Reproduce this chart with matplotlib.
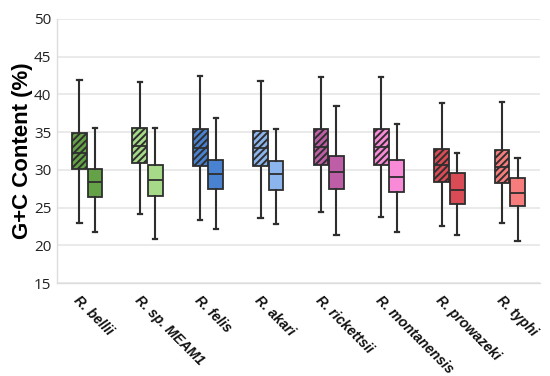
import matplotlib
matplotlib.use("Agg")
import matplotlib.pyplot as plt
from matplotlib import transforms

species = ["R. bellii", "R. sp. MEAM1", "R. felis", "R. akari",
           "R. rickettsii", "R. montanensis", "R. prowazeki", "R. typhi"]
colors = ["#64a147", "#a6da88", "#4a82d2", "#8cb5ed",
          "#bd5ea6", "#f98ad7", "#da4c55", "#f77d7c"]

# hatched (first) series: whisker low, Q1, median, Q3, whisker high
hat_lo  = [23.0, 24.1, 23.3, 23.6, 24.45, 23.8, 22.6, 22.9]
hat_q1  = [30.1, 30.9, 30.55, 30.55, 30.7, 30.7, 28.4, 28.3]
hat_med = [32.2, 33.2, 32.9, 32.9, 33.0, 33.0, 30.6, 30.4]
hat_q3  = [34.9, 35.6, 35.4, 35.2, 35.4, 35.4, 32.7, 32.6]
hat_hi  = [41.9, 41.7, 42.5, 41.8, 42.3, 42.3, 38.8, 39.0]

# plain (second) series
pl_lo  = [21.8, 20.9, 22.2, 22.8, 21.4, 21.8, 21.4, 20.6]
pl_q1  = [26.4, 26.6, 27.5, 27.3, 27.4, 27.1, 25.5, 25.25]
pl_med = [28.35, 28.65, 29.4, 29.5, 29.7, 29.1, 27.3, 26.9]
pl_q3  = [30.15, 30.6, 31.3, 31.2, 31.9, 31.3, 29.6, 28.9]
pl_hi  = [35.6, 35.6, 36.9, 35.4, 38.4, 36.1, 32.2, 31.6]

yticks = [15, 20, 25, 30, 35, 40, 45, 50]

plt.rcParams['hatch.linewidth'] = 1.4

fig = plt.figure(figsize=(5.5, 3.76), dpi=100)
ax = fig.add_axes([0.1036, 0.2473, 0.8782, 0.7022])

def stats(lo, q1, med, q3, hi):
    return [dict(whislo=a, q1=b, med=c, q3=d, whishi=e, fliers=[])
            for a, b, c, d, e in zip(lo, q1, med, q3, hi)]

pos = list(range(1, len(species) + 1))
off = 0.128
w = 0.245
edge = "#2e2e2e"
common = dict(widths=w, patch_artist=True, showfliers=False, capwidths=0.07,
              boxprops=dict(edgecolor=edge, linewidth=1.3),
              medianprops=dict(color=edge, linewidth=1.3),
              whiskerprops=dict(color=edge, linewidth=1.5),
              capprops=dict(color=edge, linewidth=1.6), manage_ticks=False)

b1 = ax.bxp(stats(hat_lo, hat_q1, hat_med, hat_q3, hat_hi),
            positions=[p - off for p in pos], **common)
b2 = ax.bxp(stats(pl_lo, pl_q1, pl_med, pl_q3, pl_hi),
            positions=[p + off for p in pos], **common)
for box, c in zip(b1["boxes"], colors):
    box.set_facecolor(c)
    box.set_hatch("/////")
for box, c in zip(b2["boxes"], colors):
    box.set_facecolor(c)

ax.set_xlim(0.5, len(species) + 0.5)
ax.set_ylim(15, 50)
ax.set_yticks(yticks)
ax.set_yticklabels([str(t) for t in yticks], fontsize=11, color="#222222",
                   family="Open Sans")
ax.tick_params(axis="y", length=0, pad=4)
ax.tick_params(axis="x", length=0)
ax.set_xticks([])
ax.yaxis.grid(True, color="#e6e6e6", linewidth=1.2)
ax.set_axisbelow(True)
for s in ["top", "right"]:
    ax.spines[s].set_visible(False)
for s in ["left", "bottom"]:
    ax.spines[s].set_color("#dddddd")
    ax.spines[s].set_linewidth(1.0)

ax.set_ylabel("G+C Content (%)", fontsize=16, fontweight="bold",
              family="Liberation Sans", labelpad=1)

trans = transforms.blended_transform_factory(ax.transData, ax.transAxes)
for p, name in zip(pos, species):
    ax.text(p - 0.1, -0.04, name, transform=trans, rotation=-45,
            rotation_mode="anchor", ha="left", va="top",
            fontsize=10, fontweight="bold", fontstyle="italic",
            family="Liberation Sans", color="#111111")

fig.savefig("out.png", dpi=100)
